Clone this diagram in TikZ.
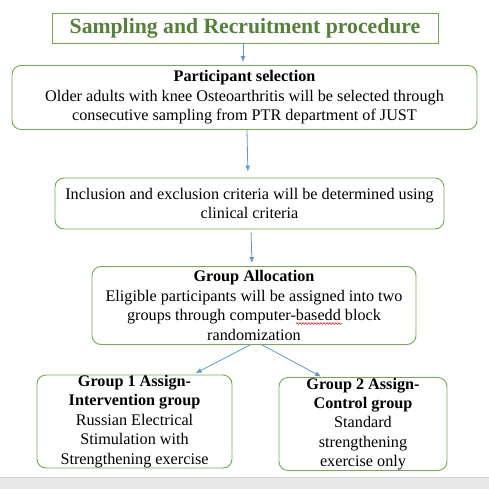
\documentclass[tikz,border=0pt]{standalone}
\usepackage{fontspec}
\setmainfont{Liberation Serif}
\usepackage{tikz}
\usetikzlibrary{positioning,arrows.meta,decorations.pathmorphing}
\usepackage{xcolor}
\definecolor{boxgreen}{HTML}{70AD47}
\definecolor{titlegreen}{HTML}{538135}
\definecolor{arrowblue}{HTML}{5B9BD5}
\definecolor{stripgray}{HTML}{E8E8E8}
\definecolor{stripline}{HTML}{D6D6D6}
\tikzset{
  titlebox/.style={draw=boxgreen, line width=0.9pt, text=titlegreen, align=center,
              inner sep=0pt, font=\fontsize{21.7}{24}\selectfont\bfseries},
  stagebox/.style={rounded corners=9pt, draw=boxgreen, line width=0.9pt, align=center,
              inner sep=0pt, font=\fontsize{16.2}{19.4}\selectfont},
  arr/.style={draw=arrowblue, line width=0.8pt, -{Latex[length=6pt,width=5pt]}},
  spellwave/.style={draw=red, line width=0.5pt,
              decorate, decoration={snake, amplitude=0.9pt, segment length=3pt}},
}

\begin{document}
\begin{tikzpicture}[x=1pt,y=-1pt]
\useasboundingbox (0,0) rectangle (489,489);
% bottom strip
\fill[stripgray] (0,477) rectangle (489,489);
\draw[stripline] (0,477) -- (489,477);
% stages
\node[titlebox, minimum width=386pt, minimum height=30pt] (title) at (245,28)
  {Sampling and Recruitment procedure};
\node[stagebox, minimum width=465pt, minimum height=64pt] (sel) at (244.5,97.5)
  {\textbf{Participant selection}\\
   Older adults with knee Osteoarthritis will be selected through\\
   consecutive sampling from PTR department of JUST};
\node[stagebox, minimum width=389pt, minimum height=51pt] (incl) at (249.5,203.5)
  {Inclusion and exclusion criteria will be determined using\\ clinical criteria};
\node[stagebox, minimum width=324pt, minimum height=78pt] (alloc) at (254,305.5)
  {\textbf{Group Allocation}\\
   Eligible participants will be assigned into two\\
   groups through computer-basedd block\\
   randomization};
\node[stagebox, minimum width=195pt, minimum height=93pt] (grpA) at (134.5,421.5)
  {\textbf{Group 1 Assign-}\\ \textbf{Intervention group}\\
   Russian Electrical\\ Stimulation with\\ Strengthening exercise};
\node[stagebox, minimum width=168pt, minimum height=93pt] (grpB) at (363,424)
  {\textbf{Group 2 Assign-}\\ \textbf{Control group}\\
   Standard\\ strengthening\\ exercise only};
% spell-check mark under "basedd"
\coordinate (waveL) at (296,323.5);
\coordinate (waveR) at (342,323.5);
\draw[spellwave] (waveL) -- (waveR);
% connectors
\draw[arr, shorten >=3pt] ([xshift=-2pt]title.south) -- ([xshift=-1.5pt]sel.north);
\draw[arr, shorten >=6pt] ([xshift=2.5pt]sel.south) -- ([xshift=-1.5pt]incl.north);
\draw[arr, shorten <=3pt, shorten >=3pt] ([xshift=1.5pt]incl.south) -- ([xshift=-2pt]alloc.north);
\draw[arr, shorten >=3pt] ([xshift=-4pt]alloc.south) -- ([xshift=58.5pt]grpA.north);
\draw[arr, shorten >=1pt] ([xshift=8pt]alloc.south) -- ([xshift=-41pt]grpB.north);
\end{tikzpicture}
\end{document}
